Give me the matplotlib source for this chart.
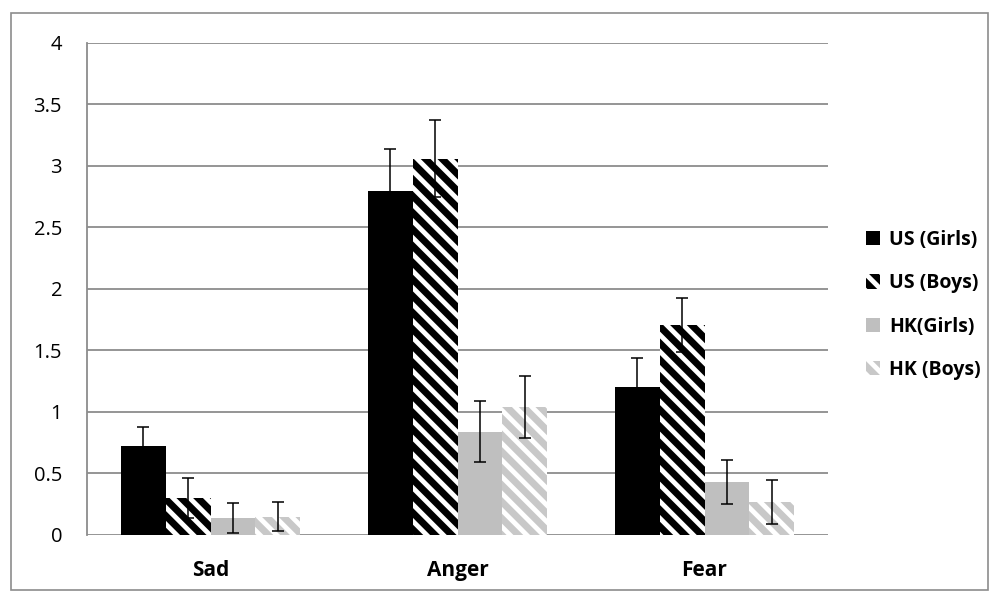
import numpy as np
import matplotlib
matplotlib.use("Agg")
import matplotlib.pyplot as plt
from matplotlib.patches import Rectangle, Patch

plt.rcParams['font.family'] = ['Open Sans', 'DejaVu Sans']
plt.rcParams['hatch.linewidth'] = 5.0

## Data
categories = ["Sad", "Anger", "Fear"]
series = ["US (Girls)", "US (Boys)", "HK(Girls)", "HK (Boys)"]
us_girls = [0.72, 2.80, 1.20]
us_boys = [0.30, 3.06, 1.71]
hk_girls = [0.14, 0.84, 0.43]
hk_boys = [0.15, 1.04, 0.27]
us_girls_err = [0.16, 0.34, 0.24]
us_boys_err = [0.16, 0.31, 0.22]
hk_girls_err = [0.12, 0.25, 0.18]
hk_boys_err = [0.12, 0.25, 0.18]

values = [us_girls, us_boys, hk_girls, hk_boys]
errors = [us_girls_err, us_boys_err, hk_girls_err, hk_boys_err]

## Styles: (face, hatch, hatch colour)
styles = [
    ("black", None, "black"),
    ("white", "\\\\", "black"),
    ("#BFBFBF", None, "#BFBFBF"),
    ("white", "\\\\", "#C8C8C8"),
]

fig = plt.figure(figsize=(10, 5.92), dpi=100)
fig.patches.append(Rectangle((0.011, 0.003), 0.977, 0.975, transform=fig.transFigure,
                             fill=False, edgecolor="#8C8C8C", linewidth=1.2))
ax = fig.add_axes([0.087, 0.0963, 0.741, 0.8311])

x = np.arange(len(categories))
width = 0.182
for i, (vals, errs) in enumerate(zip(values, errors)):
    face, hatch, hc = styles[i]
    pos = x + (i - 1.5) * width
    ax.bar(pos, vals, width, color=face, hatch=hatch, edgecolor=hc,
           linewidth=0, label=series[i], zorder=2)
    ax.errorbar(pos, vals, yerr=errs, fmt="none", ecolor="black",
                elinewidth=1.1, capsize=4, capthick=1.1, zorder=3)

ax.set_xlim(-0.5, 2.5)
ax.set_ylim(0, 4)
ax.set_yticks(np.arange(0, 4.01, 0.5))
ax.set_yticklabels(["0", "0.5", "1", "1.5", "2", "2.5", "3", "3.5", "4"])
ax.set_xticks(x)
ax.set_xticklabels(categories, fontweight="bold", fontsize=15)
ax.tick_params(axis="x", length=0, pad=18)
ax.tick_params(axis="y", length=0, pad=18, labelsize=14.5)
ax.yaxis.grid(True, color="#8C8C8C", linewidth=1.3, zorder=0)
ax.set_axisbelow(True)
for s in ["top", "right", "bottom"]:
    ax.spines[s].set_visible(False)
ax.spines["left"].set_color("#8C8C8C")
ax.spines["left"].set_linewidth(1.3)

handles = [Patch(facecolor=f, hatch=h, edgecolor=c, linewidth=0) for f, h, c in styles]
leg = fig.legend(handles, series, loc="center left", bbox_to_anchor=(0.848, 0.485),
                 frameon=False, handlelength=0.75, handleheight=0.75, handletextpad=0.45,
                 labelspacing=1.2, prop={"weight": "bold", "size": 14})

fig.savefig("out.png", dpi=100)
